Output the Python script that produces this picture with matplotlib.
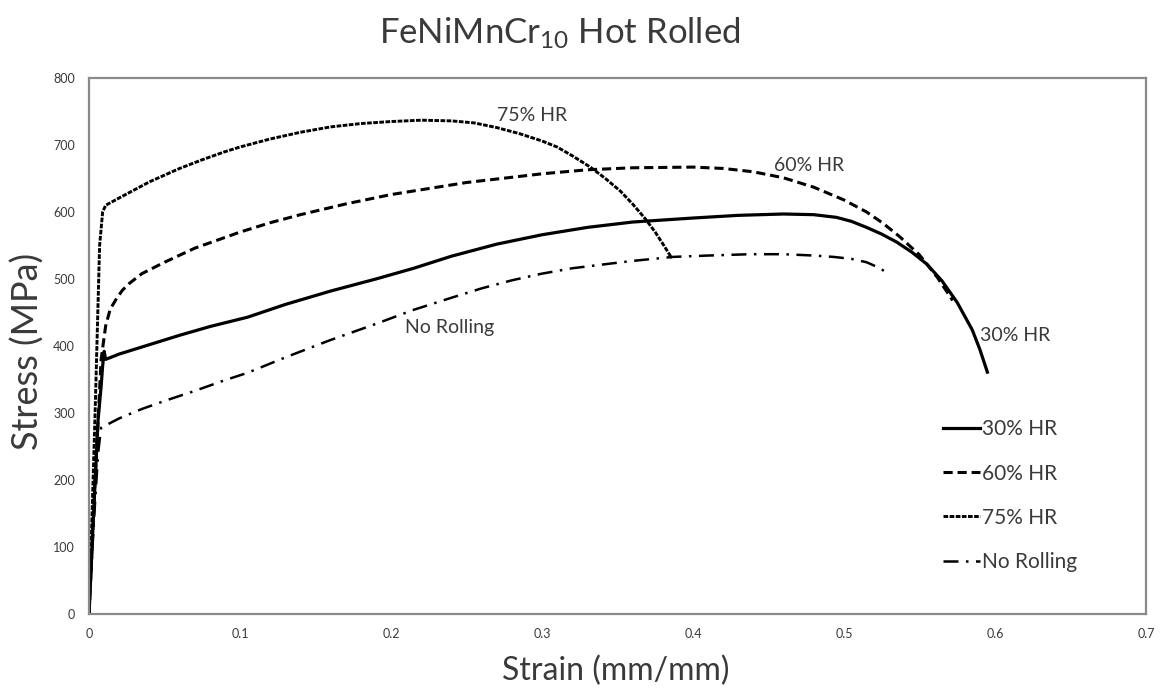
import matplotlib.pyplot as plt

plt.rcParams['font.family'] = ['Lato', 'DejaVu Sans']
plt.rcParams['mathtext.fontset'] = 'custom'
plt.rcParams['mathtext.rm'] = 'Lato'
plt.rcParams['mathtext.it'] = 'Lato:italic'

TEXT = '#3a3a3a'

# stress-strain curves (strain mm/mm, stress MPa)
hr30_strain = [0, 0.003, 0.006, 0.008, 0.009, 0.010, 0.011, 0.02, 0.04, 0.06, 0.08, 0.105,
               0.13, 0.16, 0.19, 0.215, 0.24, 0.27, 0.30, 0.33, 0.36, 0.40, 0.43, 0.46,
               0.48, 0.495, 0.505, 0.515, 0.525, 0.535, 0.545, 0.555, 0.565, 0.575,
               0.585, 0.59, 0.595]
hr30_stress = [0, 150, 290, 340, 370, 392, 380, 388, 402, 416, 429, 443,
               462, 482, 500, 516, 534, 552, 566, 577, 585, 591, 595, 597,
               596, 592, 586, 577, 567, 555, 540, 522, 497, 465,
               424, 395, 361]

hr60_strain = [0, 0.004, 0.008, 0.011, 0.014, 0.018, 0.022, 0.027, 0.035, 0.05, 0.07,
               0.1, 0.12, 0.14, 0.17, 0.2, 0.25, 0.3, 0.33, 0.36, 0.40, 0.42, 0.44,
               0.46, 0.48, 0.50, 0.515, 0.526, 0.537, 0.55, 0.562, 0.572]
hr60_stress = [0, 200, 380, 430, 455, 470, 483, 494, 508, 525, 546,
               570, 584, 596, 612, 626, 644, 657, 663, 666, 667, 665, 660,
               651, 637, 618, 600, 583, 563, 536, 502, 468]

hr75_strain = [0, 0.004, 0.007, 0.009, 0.011, 0.02, 0.03, 0.04, 0.05, 0.06, 0.075, 0.09,
               0.1, 0.12, 0.14, 0.16, 0.18, 0.2, 0.22, 0.24, 0.255, 0.27, 0.285, 0.3,
               0.31, 0.32, 0.332, 0.342, 0.352, 0.36, 0.368, 0.375, 0.381, 0.386]
hr75_stress = [0, 300, 550, 600, 610, 621, 633, 645, 655, 665, 678, 690,
               697, 709, 719, 727, 732, 735, 737, 736, 733, 726, 717, 706,
               697, 684, 667, 650, 631, 612, 591, 570, 549, 531]

norol_strain = [0, 0.003, 0.006, 0.008, 0.02, 0.035, 0.05, 0.07, 0.09, 0.105, 0.13,
                0.16, 0.19, 0.215, 0.24, 0.26, 0.28, 0.30, 0.32, 0.338, 0.36, 0.387,
                0.41, 0.438, 0.46, 0.48, 0.493, 0.505, 0.515, 0.522, 0.529]
norol_stress = [0, 130, 240, 278, 292, 306, 318, 333, 349, 360, 383,
                409, 433, 454, 472, 486, 498, 508, 516, 521, 527, 533,
                535, 537, 537, 535, 533, 530, 525, 518, 509]

fig = plt.figure(figsize=(11.61, 6.92), dpi=100)
ax = fig.add_axes([0.0767, 0.1127, 0.9103, 0.7746])

ax.plot(hr30_strain, hr30_stress, color='black', lw=2.3, ls='-', label='30% HR')
ax.plot(hr60_strain, hr60_stress, color='black', lw=2.2, ls=(0, (3, 1.6)), label='60% HR')
ax.plot(hr75_strain, hr75_stress, color='black', lw=2.1, ls=(0, (1.6, 0.5)), label='75% HR')
ax.plot(norol_strain, norol_stress, color='black', lw=1.8, ls=(0, (6, 3, 1, 3)), label='No Rolling')

ax.text(0.27, 744, '75% HR', fontsize=14, color=TEXT, va='center')
ax.text(0.454, 670, '60% HR', fontsize=14, color=TEXT, va='center')
ax.text(0.59, 416, '30% HR', fontsize=14, color=TEXT, va='center')
ax.text(0.209, 428, 'No Rolling', fontsize=14, color=TEXT, va='center')

ax.set_xlim(0, 0.7)
ax.set_ylim(0, 800)
ax.set_xticks([0, 0.1, 0.2, 0.3, 0.4, 0.5, 0.6, 0.7])
ax.set_xticklabels(['0', '0.1', '0.2', '0.3', '0.4', '0.5', '0.6', '0.7'])
ax.set_yticks(range(0, 801, 100))
ax.tick_params(length=0, labelsize=9, labelcolor=TEXT, pad=10)

for s in ax.spines.values():
    s.set_color('#8a8a8a')
    s.set_linewidth(1.6)

ax.set_xlabel('Strain (mm/mm)', fontsize=23, color=TEXT, va='center')
ax.xaxis.set_label_coords(0.498, -0.106)
ax.set_ylabel('Stress (MPa)', fontsize=26, color=TEXT, va='center')
ax.yaxis.set_label_coords(-0.058, 0.49)
fig.text(0.482, 0.952, 'FeNiMnCr$_{10}$ Hot Rolled', fontsize=25, color=TEXT,
         ha='center', va='center')

leg = ax.legend(loc='upper left', bbox_to_anchor=(0.79, 0.398), frameon=False,
                fontsize=15, handlelength=1.8, handletextpad=0.1, labelspacing=1.16)
for t in leg.get_texts():
    t.set_color(TEXT)

fig.savefig('out.png', dpi=100)
